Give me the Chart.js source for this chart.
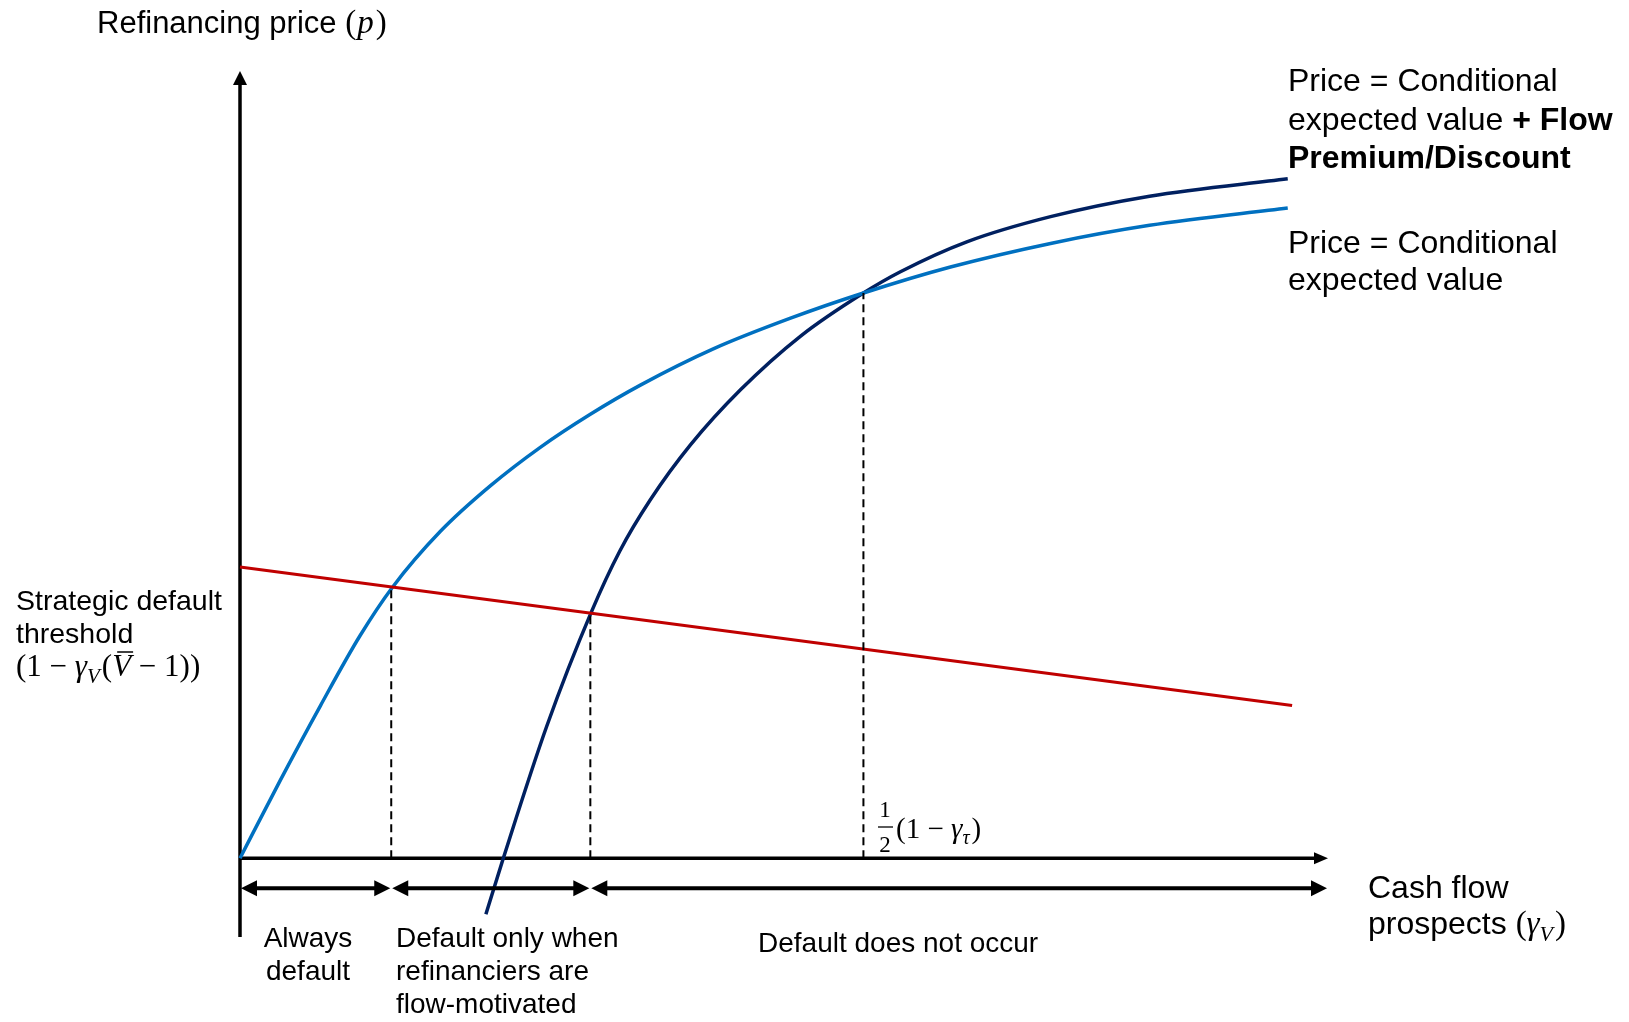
<!DOCTYPE html>
<html>
<head>
<meta charset="utf-8">
<title>Refinancing price</title>
<script src="https://cdn.jsdelivr.net/npm/chart.js@4.4.1/dist/chart.umd.min.js"></script>
<style>
    body { margin: 0; background: #ffffff; }
    #wrap { width: 1629px; height: 1022px; position: relative; }
</style>
</head>
<body>
<div id="wrap"><canvas id="myChart"></canvas></div>
<script>
const ctx = document.getElementById("myChart");

// Price = conditional expected value
const conditionalX = [0, 0.037, 0.074, 0.110, 0.140, 0.184, 0.230, 0.276, 0.322, 0.368, 0.435, 0.506, 0.573, 0.653, 0.745, 0.836, 0.963];
const conditionalY = [0, 0.099, 0.194, 0.282, 0.344, 0.415, 0.473, 0.522, 0.564, 0.601, 0.647, 0.686, 0.718, 0.751, 0.781, 0.804, 0.826];

// Price = conditional expected value + flow premium/discount
const flowX = [0.226, 0.242, 0.282, 0.323, 0.349, 0.377, 0.414, 0.460, 0.515, 0.573, 0.607, 0.668, 0.745, 0.836, 0.963];
const flowY = [-0.071, 0, 0.168, 0.313, 0.390, 0.455, 0.525, 0.595, 0.663, 0.718, 0.745, 0.783, 0.815, 0.841, 0.863];

// Strategic default threshold
const thresholdX = [0, 0.967];
const thresholdY = [0.370, 0.194];

// dashed cut-offs
const cutoffX = [0.139, 0.322, 0.573];
const cutoffY = [0.344, 0.313, 0.718];

// regions under the axis
const regionStart = [0, 0.139, 0.322];
const regionEnd = [0.139, 0.322, 1.0];
const regionY = -0.038;

const sans = '"Liberation Sans", Arial, Helvetica, sans-serif';
const serif = '"Liberation Serif", "Times New Roman", serif';

const toPoints = (xs, ys) => xs.map((x, i) => ({ x: x, y: ys[i] }));

const drawRuns = (c, x, y, runs) => {
    runs.forEach((r) => {
        c.font = r.f;
        const dy = r.dy || 0;
        c.fillText(r.t, x, y + dy);
        const w = c.measureText(r.t).width;
        if (r.bar) {
            c.save();
            c.lineWidth = 1.5;
            c.beginPath();
            c.moveTo(x + 5, y - 24);
            c.lineTo(x + w + 2, y - 24);
            c.stroke();
            c.restore();
        }
        x += w + (r.gap || 0);
    });
    return x;
};

const arrowHead = (c, x, y, dir, len, half) => {
    c.beginPath();
    if (dir === "right") {
        c.moveTo(x, y);
        c.lineTo(x - len, y - half);
        c.lineTo(x - len, y + half);
    } else if (dir === "left") {
        c.moveTo(x, y);
        c.lineTo(x + len, y - half);
        c.lineTo(x + len, y + half);
    } else {
        c.moveTo(x, y);
        c.lineTo(x - half, y + len);
        c.lineTo(x + half, y + len);
    }
    c.closePath();
    c.fill();
};

const axesPlugin = {
    id: "axesPlugin",
    beforeDatasetsDraw(chart) {
        const c = chart.ctx;
        const sx = chart.scales.x;
        const sy = chart.scales.y;
        const x0 = sx.getPixelForValue(0);
        const y0 = sy.getPixelForValue(0);
        c.save();
        c.strokeStyle = "#000";
        c.fillStyle = "#000";
        c.lineWidth = 3.5;
        c.beginPath();
        c.moveTo(x0, sy.getPixelForValue(-0.1));
        c.lineTo(x0, sy.getPixelForValue(1.0) + 10);
        c.stroke();
        arrowHead(c, x0, sy.getPixelForValue(1.0), "up", 14, 7);
        c.beginPath();
        c.moveTo(x0, y0);
        c.lineTo(sx.getPixelForValue(1.0) - 10, y0);
        c.stroke();
        arrowHead(c, sx.getPixelForValue(1.0), y0, "right", 14, 6);
        c.restore();
    },
    afterDraw(chart) {
        const c = chart.ctx;
        const sx = chart.scales.x;
        const sy = chart.scales.y;
        c.save();
        c.fillStyle = "#000";
        c.strokeStyle = "#000";

        // double arrows
        const ay = sy.getPixelForValue(regionY);
        regionStart.forEach((s, i) => {
            const a = sx.getPixelForValue(s);
            const b = sx.getPixelForValue(regionEnd[i]);
            c.lineWidth = 4;
            c.beginPath();
            c.moveTo(a + 10, ay);
            c.lineTo(b - 10, ay);
            c.stroke();
            arrowHead(c, a + 1, ay, "left", 16, 8);
            arrowHead(c, b - 1, ay, "right", 16, 8);
        });

        c.textBaseline = "alphabetic";
        c.textAlign = "left";

        // y axis title
        drawRuns(c, 97, 33, [
            { t: "Refinancing price ", f: "31px " + sans },
            { t: "(", f: "33px " + serif, gap: 1 },
            { t: "p", f: "italic 33px " + serif, gap: 2 },
            { t: ")", f: "33px " + serif },
        ]);

        // threshold label
        c.font = "28.5px " + sans;
        c.fillText("Strategic default", 16, 610);
        c.fillText("threshold", 16, 643);
        drawRuns(c, 16, 676, [
            { t: "(1 \u2212 ", f: "31px " + serif },
            { t: "\u03b3", f: "italic 31px " + serif },
            { t: "V", f: "italic 21px " + serif, dy: 7, gap: 2 },
            { t: "(", f: "31px " + serif },
            { t: "V", f: "italic 31px " + serif, bar: true },
            { t: " \u2212 1))", f: "31px " + serif },
        ]);

        // curve labels
        c.font = "32px " + sans;
        c.fillText("Price = Conditional", 1288, 91);
        drawRuns(c, 1288, 130, [
            { t: "expected value ", f: "32px " + sans },
            { t: "+ Flow", f: "bold 32px " + sans },
        ]);
        c.font = "bold 32px " + sans;
        c.fillText("Premium/Discount", 1288, 168);
        c.font = "32px " + sans;
        c.fillText("Price = Conditional", 1288, 253);
        c.fillText("expected value", 1288, 290);

        // x axis title
        c.font = "32px " + sans;
        c.fillText("Cash flow", 1368, 898);
        drawRuns(c, 1368, 934, [
            { t: "prospects ", f: "32px " + sans },
            { t: "(", f: "33px " + serif },
            { t: "\u03b3", f: "italic 33px " + serif },
            { t: "V", f: "italic 22px " + serif, dy: 7, gap: 2 },
            { t: ")", f: "33px " + serif },
        ]);

        // region labels
        c.font = "28px " + sans;
        c.textAlign = "center";
        c.fillText("Always", 308, 947);
        c.fillText("default", 308, 980);
        c.textAlign = "left";
        c.fillText("Default only when", 396, 947);
        c.fillText("refinanciers are", 396, 980);
        c.fillText("flow-motivated", 396, 1013);
        c.fillText("Default does not occur", 758, 952);

        // 1/2 (1 - gamma_tau)
        c.textAlign = "center";
        c.font = "23px " + serif;
        c.fillText("1", 885, 817);
        c.fillText("2", 885, 852);
        c.lineWidth = 1.3;
        c.beginPath();
        c.moveTo(878, 827);
        c.lineTo(893, 827);
        c.stroke();
        c.textAlign = "left";
        drawRuns(c, 896, 838, [
            { t: "(1 \u2212 ", f: "29px " + serif },
            { t: "\u03b3", f: "italic 29px " + serif },
            { t: "\u03c4", f: "italic 20px " + serif, dy: 6, gap: 2 },
            { t: ")", f: "29px " + serif },
        ]);
        c.restore();
    },
};

const cutoffSets = cutoffX.map((x, i) => ({
    data: [{ x: x, y: 0 }, { x: x, y: cutoffY[i] }],
    borderColor: "#000000",
    borderWidth: 2,
    borderDash: [8, 5],
    pointRadius: 0,
    fill: false,
}));

new Chart(ctx, {
    type: "line",
    data: {
        datasets: [
            ...cutoffSets,
            {
                label: "Strategic default threshold",
                data: toPoints(thresholdX, thresholdY),
                borderColor: "#C00000",
                borderWidth: 3,
                pointRadius: 0,
            },
            {
                label: "Price = Conditional expected value",
                data: toPoints(conditionalX, conditionalY),
                borderColor: "#0070C0",
                borderWidth: 3.5,
                pointRadius: 0,
                cubicInterpolationMode: "monotone",
            },
            {
                label: "Price = Conditional expected value + Flow Premium/Discount",
                data: toPoints(flowX, flowY),
                borderColor: "#002060",
                borderWidth: 3.5,
                pointRadius: 0,
                cubicInterpolationMode: "monotone",
            },
        ],
    },
    options: {
        responsive: true,
        maintainAspectRatio: false,
        animation: false,
        clip: false,
        layout: {
            padding: { left: 240, right: 301, top: 71, bottom: 85 },
        },
        plugins: {
            legend: { display: false },
            tooltip: { enabled: false },
        },
        scales: {
            x: { type: "linear", min: 0, max: 1, display: false },
            y: { type: "linear", min: -0.1, max: 1.0, display: false },
        },
    },
    plugins: [axesPlugin],
});
</script>
</body>
</html>
